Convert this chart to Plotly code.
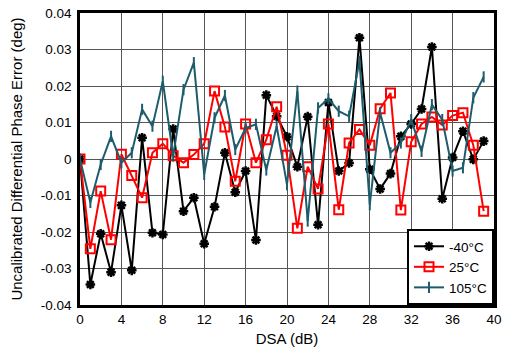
import plotly.graph_objects as go

dsa = list(range(40))

m40 = [0, -0.0344, -0.0205, -0.031, -0.0127, -0.0305, 0.0058, -0.0202, -0.0207, 0.0082,
       -0.0143, -0.0106, -0.0232, -0.0131, 0.0017, -0.0091, -0.0033, -0.0222, 0.0175, 0.0117,
       0.0061, -0.0021, 0.0116, -0.018, 0.0155, -0.0033, -0.0011, 0.0332, -0.0028, -0.0082,
       -0.004, 0.0062, 0.0096, 0.0137, 0.0307, -0.0109, 0.0004, 0.0076, -0.0001, 0.0049]

p25 = [0, -0.0246, -0.0088, -0.0221, 0.0013, -0.0045, -0.0106, 0.0017, 0.0042, 0.0009,
       -0.001, 0.0012, 0.0042, 0.0186, 0.0088, -0.0061, 0.0096, -0.001, 0.0053, 0.0143,
       0.001, -0.019, -0.0021, -0.0082, 0.0096, -0.0139, 0.0044, 0.0081, 0.0038, 0.0138,
       0.0181, -0.014, 0.0047, 0.0096, 0.0115, 0.0093, 0.0119, 0.0127, 0.0038, -0.0143]

p105 = [0, -0.0119, -0.0015, 0.0062, -0.001, 0.0017, 0.0136, 0.009, 0.0213, 0.0008,
        0.019, 0.0264, -0.0042, 0.0113, 0.0174, 0.0026, 0.0085, 0.0095, -0.003, 0.009,
        -0.007, 0.0186, -0.017, 0.014, 0.0165, 0.0131, 0.0117, 0.0268, -0.0125, 0.0127,
        0.0017, 0.0044, 0.0108, 0.0021, 0.0149, 0.0108, -0.0033, -0.0024, 0.0168, 0.0225]

series_names = ["-40°C", "25°C", "105°C"]

x_ticks = [0, 4, 8, 12, 16, 20, 24, 28, 32, 36, 40]
y_ticks = [-0.04, -0.03, -0.02, -0.01, 0, 0.01, 0.02, 0.03, 0.04]
y_ticktext = ["-0.04", "-0.03", "-0.02", "-0.01", "0", "0.01", "0.02", "0.03", "0.04"]

teal = "#1d5c6c"
fig = go.Figure()
fig.add_trace(go.Scatter(x=dsa, y=m40, name=series_names[0], mode="lines+markers",
                         line=dict(color="black", width=2),
                         marker=dict(symbol="asterisk-open", size=8, color="black",
                                     line=dict(color="black", width=2.5))))
fig.add_trace(go.Scatter(x=dsa, y=p25, name=series_names[1], mode="lines+markers",
                         line=dict(color="#ff0000", width=2),
                         marker=dict(symbol="square-open", size=9, color="#ff0000",
                                     line=dict(color="#ff0000", width=2))))
fig.add_trace(go.Scatter(x=dsa, y=p105, name=series_names[2], mode="lines+markers",
                         line=dict(color=teal, width=2),
                         marker=dict(symbol="line-ns-open", size=8, color=teal,
                                     line=dict(color=teal, width=2))))

font = "Liberation Sans, Arial, sans-serif"
fig.update_layout(
    width=505, height=347,
    margin=dict(l=80, r=11, t=13, b=42),
    paper_bgcolor="white", plot_bgcolor="white",
    font=dict(family=font, size=13.5, color="black"),
    showlegend=True,
    legend=dict(x=1, y=0, xanchor="right", yanchor="bottom",
                bgcolor="white", bordercolor="black", borderwidth=2,
                font=dict(size=13.5, family=font), tracegroupgap=0,
                itemwidth=30),
    xaxis=dict(range=[0, 40], tickvals=x_ticks, showgrid=True, gridcolor="#555555", gridwidth=1,
               showline=True, linecolor="black", linewidth=2.5, mirror=True, zeroline=False,
               automargin=False, ticklabeloverflow="allow",
               title=dict(text="DSA (dB)", font=dict(size=15)), ticks="", tickfont=dict(size=13.5)),
    yaxis=dict(range=[-0.04, 0.04], tickvals=y_ticks, ticktext=y_ticktext, showgrid=True,
               gridcolor="#555555", gridwidth=1, automargin=False, ticklabelstandoff=3,
               ticklabeloverflow="allow",
               showline=True, linecolor="black", linewidth=2.5, mirror=True, zeroline=False,
               title=dict(text="Uncalibrated Differential Phase Error (deg)", font=dict(size=15)),
               ticks="", tickfont=dict(size=13.5)),
)

# remove the browser's default 8px body margin so the figure fills the window exactly
fig.write_html("out.html", config={"displayModeBar": False},
               post_script="document.body.style.margin='0';")
